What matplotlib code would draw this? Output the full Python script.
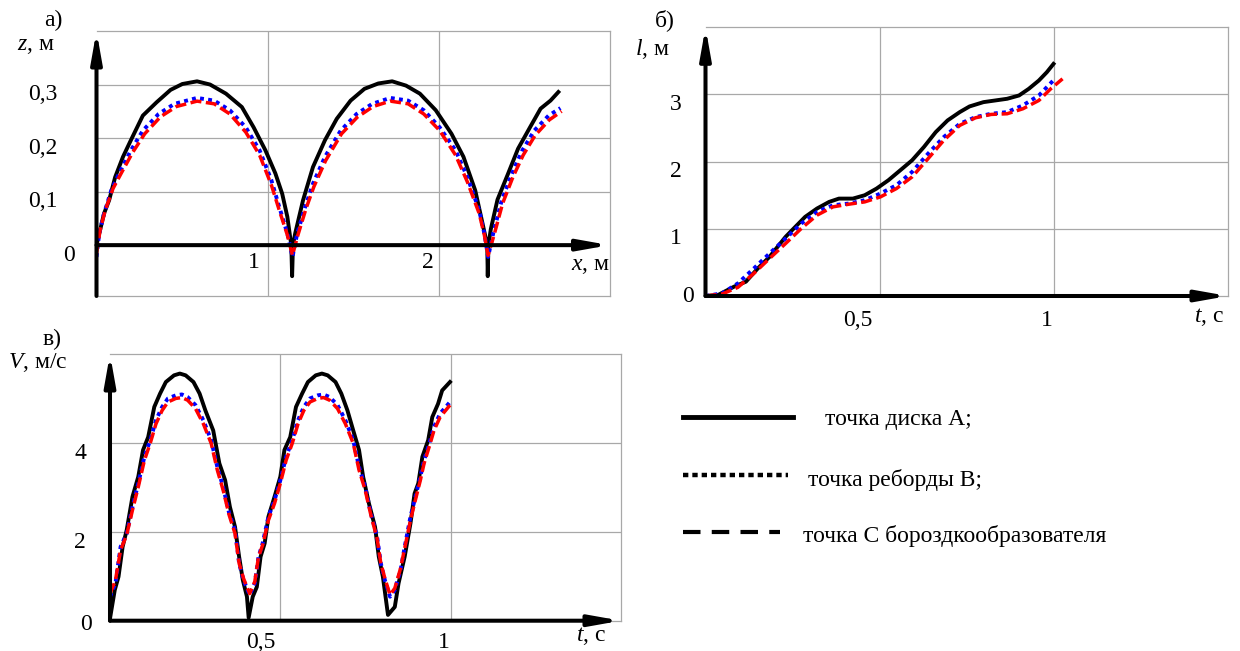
import matplotlib
matplotlib.use('Agg')
import matplotlib.pyplot as plt
from matplotlib.lines import Line2D

plt.rcParams['font.family'] = ['Liberation Serif', 'DejaVu Serif']
plt.rcParams['mathtext.fontset'] = 'custom'
plt.rcParams['mathtext.it'] = 'Liberation Serif:italic'
plt.rcParams['mathtext.rm'] = 'Liberation Serif'

# ---------------- data: panel а) z(x) ----------------
zA_x = [0, 0.044, 0.074, 0.109, 0.155, 0.201, 0.271, 0.352, 0.433, 0.502, 0.588, 0.664, 0.757,
        0.850, 0.919, 0.988, 1.046, 1.086, 1.116, 1.139, 1.144, 1.149, 1.162, 1.208, 1.266, 1.336,
        1.405, 1.486, 1.567, 1.648, 1.729, 1.810, 1.891, 1.984, 2.076, 2.146, 2.215, 2.262,
        2.285, 2.288, 2.292, 2.306, 2.345, 2.405, 2.465, 2.535, 2.597, 2.655, 2.701]
zA = [0, 0.059, 0.084, 0.127, 0.165, 0.196, 0.242, 0.267, 0.290, 0.301, 0.306, 0.300, 0.283,
      0.258, 0.220, 0.177, 0.134, 0.096, 0.053, 0.0, -0.058, 0.0, 0.022, 0.084, 0.146, 0.196,
      0.236, 0.270, 0.292, 0.302, 0.306, 0.298, 0.283, 0.252, 0.208, 0.165, 0.102, 0.034,
      0.0, -0.058, 0.0, 0.030, 0.085, 0.132, 0.180, 0.220, 0.255, 0.270, 0.286]

zB_x = [0, 0.016, 0.044, 0.086, 0.132, 0.201, 0.271, 0.363, 0.456, 0.588, 0.688, 0.780, 0.873,
        0.954, 1.023, 1.069, 1.116, 1.146, 1.174, 1.220, 1.266, 1.336, 1.428, 1.521, 1.613,
        1.718, 1.822, 1.914, 2.007, 2.100, 2.169, 2.238, 2.268, 2.290, 2.320, 2.370, 2.430,
        2.490, 2.560, 2.644, 2.713]
zB = [-0.022, 0.022, 0.059, 0.102, 0.134, 0.177, 0.214, 0.245, 0.264, 0.275, 0.270, 0.252,
      0.220, 0.177, 0.121, 0.071, 0.022, -0.022, 0.022, 0.071, 0.115, 0.165, 0.214, 0.245,
      0.264, 0.275, 0.270, 0.252, 0.220, 0.177, 0.127, 0.065, 0.022, -0.022, 0.022, 0.084,
      0.134, 0.177, 0.214, 0.242, 0.256]

zC_x = [0, 0.021, 0.051, 0.097, 0.144, 0.213, 0.282, 0.375, 0.468, 0.588, 0.688, 0.780, 0.873,
        0.954, 1.023, 1.069, 1.116, 1.146, 1.178, 1.225, 1.271, 1.340, 1.433, 1.525, 1.618,
        1.718, 1.822, 1.914, 2.007, 2.100, 2.169, 2.238, 2.268, 2.290, 2.325, 2.375, 2.435,
        2.495, 2.565, 2.648, 2.720]
zC = [-0.016, 0.028, 0.065, 0.106, 0.134, 0.174, 0.208, 0.240, 0.259, 0.269, 0.264, 0.245,
      0.211, 0.168, 0.112, 0.065, 0.019, -0.019, 0.019, 0.068, 0.109, 0.158, 0.208, 0.239,
      0.259, 0.269, 0.264, 0.245, 0.214, 0.168, 0.118, 0.059, 0.019, -0.019, 0.019, 0.078,
      0.127, 0.168, 0.205, 0.234, 0.250]

# ---------------- data: panel б) l(t) ----------------
lA_t = [0, 0.036, 0.082, 0.116, 0.150, 0.184, 0.207, 0.230, 0.258, 0.286, 0.320, 0.355, 0.383,
        0.423, 0.457, 0.491, 0.525, 0.559, 0.593, 0.627, 0.661, 0.695, 0.730, 0.758, 0.798,
        0.832, 0.866, 0.900, 0.928, 0.957, 0.980, 0.999]
lA = [0, 0.015, 0.139, 0.213, 0.410, 0.584, 0.733, 0.881, 1.030, 1.178, 1.302, 1.401, 1.450,
      1.450, 1.500, 1.599, 1.723, 1.871, 2.020, 2.218, 2.440, 2.614, 2.738, 2.822, 2.886,
      2.911, 2.936, 2.985, 3.084, 3.208, 3.332, 3.455]

lB_t = [0, 0.048, 0.093, 0.139, 0.184, 0.230, 0.275, 0.320, 0.366, 0.411, 0.457, 0.502, 0.548,
        0.593, 0.639, 0.684, 0.730, 0.775, 0.820, 0.866, 0.911, 0.957, 1.002]
lB = [0, 0.040, 0.188, 0.411, 0.634, 0.856, 1.079, 1.252, 1.351, 1.376, 1.426, 1.525, 1.649,
      1.847, 2.119, 2.366, 2.564, 2.663, 2.713, 2.738, 2.837, 2.985, 3.228]

lC_t = [0, 0.048, 0.093, 0.139, 0.184, 0.230, 0.275, 0.320, 0.366, 0.411, 0.457, 0.502, 0.548,
        0.593, 0.639, 0.684, 0.730, 0.775, 0.820, 0.866, 0.911, 0.957, 0.991, 1.025]
lC = [0, 0.030, 0.129, 0.337, 0.559, 0.782, 1.005, 1.203, 1.327, 1.366, 1.401, 1.475, 1.599,
      1.772, 2.045, 2.317, 2.540, 2.653, 2.703, 2.713, 2.787, 2.911, 3.084, 3.233]

# ---------------- data: panel в) V(t) ----------------
vA_t = [0, 0.014, 0.025, 0.037, 0.049, 0.066, 0.083, 0.097, 0.112, 0.130, 0.147, 0.164, 0.188,
        0.205, 0.222, 0.245, 0.263, 0.280, 0.303, 0.321, 0.338, 0.352, 0.367, 0.379, 0.390,
        0.402, 0.407, 0.419, 0.431, 0.442, 0.454, 0.465, 0.483, 0.500, 0.512, 0.529, 0.546,
        0.564, 0.581, 0.604, 0.622, 0.639, 0.662, 0.679, 0.697, 0.714, 0.731, 0.743, 0.760,
        0.778, 0.789, 0.801, 0.816, 0.836, 0.847, 0.865, 0.882, 0.894, 0.905, 0.917, 0.934,
        0.946, 0.963, 0.975, 0.998]
vA = [0.05, 0.69, 0.99, 1.66, 2.04, 2.79, 3.24, 3.84, 4.13, 4.81, 5.11, 5.37, 5.52, 5.56, 5.52,
      5.37, 5.11, 4.73, 4.28, 3.54, 3.16, 2.56, 2.11, 1.44, 0.91, 0.54, 0.07, 0.54, 0.76, 1.44,
      1.74, 2.34, 2.79, 3.24, 3.84, 4.13, 4.81, 5.11, 5.37, 5.52, 5.56, 5.52, 5.37, 5.11, 4.73,
      4.28, 3.84, 3.24, 2.64, 2.11, 1.44, 0.99, 0.13, 0.31, 0.84, 1.44, 2.19, 2.86, 3.09, 3.69,
      4.06, 4.58, 4.88, 5.18, 5.37]

vB_t = [0, 0.016, 0.031, 0.049, 0.066, 0.083, 0.101, 0.118, 0.135, 0.153, 0.170, 0.193, 0.211,
        0.228, 0.251, 0.274, 0.297, 0.315, 0.332, 0.350, 0.367, 0.379, 0.392, 0.410, 0.425,
        0.436, 0.448, 0.465, 0.483, 0.500, 0.517, 0.535, 0.552, 0.569, 0.587, 0.610, 0.627,
        0.645, 0.668, 0.691, 0.714, 0.731, 0.749, 0.766, 0.784, 0.795, 0.807, 0.822, 0.836,
        0.853, 0.865, 0.882, 0.894, 0.911, 0.922, 0.940, 0.951, 0.969, 0.998]
vB = [0.54, 0.84, 1.66, 1.96, 2.56, 3.09, 3.69, 4.06, 4.51, 4.81, 5.00, 5.07, 5.09, 5.03, 4.85,
      4.51, 4.06, 3.46, 3.01, 2.41, 2.04, 1.29, 0.91, 0.58, 0.84, 1.44, 1.74, 2.34, 2.71, 3.16,
      3.69, 4.06, 4.51, 4.81, 5.00, 5.07, 5.09, 5.03, 4.85, 4.51, 4.06, 3.46, 3.01, 2.41, 1.89,
      1.29, 0.91, 0.54, 0.69, 1.14, 1.66, 2.34, 2.71, 3.24, 3.61, 4.06, 4.36, 4.66, 4.92]

vC_t = vB_t
vC = [0.61, 0.91, 1.59, 1.93, 2.49, 3.01, 3.61, 3.99, 4.43, 4.73, 4.92, 5.00, 5.02, 4.96, 4.77,
      4.43, 3.99, 3.39, 2.94, 2.37, 1.96, 1.29, 0.95, 0.61, 0.88, 1.44, 1.70, 2.26, 2.64, 3.09,
      3.61, 3.99, 4.43, 4.73, 4.92, 5.00, 5.02, 4.96, 4.77, 4.43, 3.99, 3.39, 2.94, 2.37, 1.85,
      1.29, 0.95, 0.58, 0.73, 1.18, 1.63, 2.26, 2.64, 3.16, 3.54, 3.99, 4.28, 4.58, 4.85]

legend_labels = ['точка диска А;', 'точка реборды В;', 'точка С бороздкообразователя']

# ---------------- figure ----------------
W, H = 1240, 651
fig = plt.figure(figsize=(W / 100, H / 100), dpi=100)
FS = 17
GRID = '#a8a8a8'


def px_axes(l, t, r, b):
    return fig.add_axes([l / W, 1 - b / H, (r - l) / W, (b - t) / H])


def ftext(x, y, s, ha='left', va='center', **kw):
    fig.text(x / W, 1 - y / H, s, ha=ha, va=va, fontsize=FS, **kw)


def setup(ax, xlim, ylim, xgrid, ygrid, y0):
    ax.set_xlim(xlim)
    ax.set_ylim(ylim)
    ax.set_xticks(xgrid)
    ax.set_yticks(ygrid)
    ax.tick_params(length=0, labelbottom=False, labelleft=False)
    ax.grid(True, color=GRID, lw=0.9)
    ax.set_axisbelow(True)
    for s in ax.spines.values():
        s.set_color(GRID)
        s.set_linewidth(0.9)
    ax.spines['left'].set_visible(False)
    ap = dict(arrowstyle='-|>,head_length=1.8,head_width=0.32', lw=2.9, color='black',
              shrinkA=0, shrinkB=0, mutation_scale=10)
    ax.annotate('', xy=(xlim[1], y0), xytext=(xlim[0], y0), arrowprops=ap,
                annotation_clip=False, zorder=5)
    ax.annotate('', xy=(0, ylim[1]), xytext=(0, ylim[0]), arrowprops=ap,
                annotation_clip=False, zorder=5)


def curves(ax, xa, ya, xb, yb, xc, yc):
    ax.plot(xa, ya, color='black', lw=2.8, zorder=3, solid_joinstyle='round')
    ax.plot(xb, yb, color='#0000ff', lw=2.8, ls=(0, (1, 1.1)), zorder=3)
    ax.plot(xc, yc, color='#ff0000', lw=2.5, ls=(0, (3.2, 1.3)), zorder=4)


def xlab(ax, val, s, y0, dx, dy):
    ax.annotate(s, xy=(val, y0), xytext=(dx, dy), textcoords='offset pixels',
                ha='right', va='center', fontsize=FS, annotation_clip=False)


def ylab(ax, val, s, dx, dy):
    ax.annotate(s, xy=(0, val), xycoords=('axes fraction', 'data'), xytext=(dx, dy),
                textcoords='offset pixels', ha='right', va='center', fontsize=FS,
                annotation_clip=False)


# panel а
axA = px_axes(96.5, 31, 609.5, 296)
setup(axA, (0, 3), (-0.095, 0.4), [1, 2], [0.1, 0.2, 0.3], 0)
curves(axA, zA_x, zA, zB_x, zB, zC_x, zC)
for v, s in [(0.3, '0,3'), (0.2, '0,2'), (0.1, '0,1')]:
    ylab(axA, v, s, -39, -10)
ylab(axA, 0, '0', -22, -10)
xlab(axA, 1, '1', 0, -8, -17)
xlab(axA, 2, '2', 0, -5, -17)
ftext(53, 20, 'а)', ha='center')
ftext(17, 45, '$z$, м')
ftext(610, 265, '$x$, м', ha='right')

# panel б
axB = px_axes(705.5, 27.3, 1228, 296)
setup(axB, (0, 1.5), (0, 4), [0.5, 1], [1, 2, 3], 0)
curves(axB, lA_t, lA, lB_t, lB, lC_t, lC)
for v, s in [(3, '3'), (2, '2'), (1, '1')]:
    ylab(axB, v, s, -24, -10)
ylab(axB, 0, '0', -12, -1)
xlab(axB, 0.5, '0,5', 0, -7, -25)
xlab(axB, 1, '1', 0, -1, -24)
ftext(665, 20, 'б)', ha='center')
ftext(635, 49, '$l$, м')
ftext(1224, 317, '$t$, с', ha='right')

# panel в
axC = px_axes(110, 354, 621, 620.7)
setup(axC, (0, 1.5), (0, 6), [0.5, 1], [2, 4], 0)
curves(axC, vA_t, vA, vB_t, vB, vC_t, vC)
for v, s in [(4, '4'), (2, '2')]:
    ylab(axC, v, s, -24, -11)
ylab(axC, 0, '0', -18, -4)
xlab(axC, 0.5, '0,5', 0, -5, -22)
xlab(axC, 1, '1', 0, -1, -22)
ftext(52, 339, 'в)', ha='center')
ftext(8, 363, '$V$, м/с')
ftext(606, 636, '$t$, с', ha='right')

# legend (drawn manually, like the reference)
leg_styles = [dict(ls='-', lw=3.5), dict(ls=(0, (1.2, 0.9)), lw=3.2), dict(ls=(0, (4.2, 2.7)), lw=3.0)]
leg_y = [416.7, 475, 532]
leg_x1 = [793, 788, 780]
leg_tx = [825, 808, 803]
leg_ty = [419, 480, 536]
for st, y, x1, tx, ty, lab in zip(leg_styles, leg_y, leg_x1, leg_tx, leg_ty, legend_labels):
    fig.add_artist(Line2D([683 / W, x1 / W], [1 - y / H, 1 - y / H], color='black', **st))
    ftext(tx, ty, lab)

fig.savefig('out.png', dpi=100)
